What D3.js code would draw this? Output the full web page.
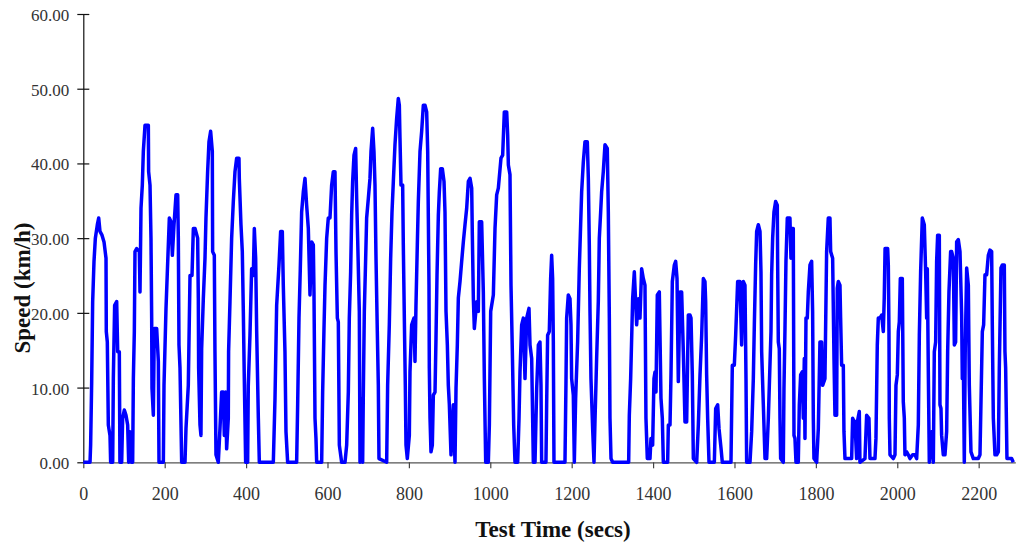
<!DOCTYPE html>
<html>
<head>
<meta charset="utf-8">
<script src="https://cdn.jsdelivr.net/npm/d3@7"></script>
<style>
  body { margin: 0; background: #fff; }
  svg { display: block; }
</style>
</head>
<body>
<div id="chart"></div>
<script>
// speed trace: [test time (s), speed (km/h)]
const speedTrace = [
  [0,0],[16.5,0],[18,2.3],[20.6,10.8],[23,21.5],[26.3,26.9],[29.6,30],[34.5,31.8],[37.8,32.7],[41,30.9],
  [46,30.4],[50.9,29.5],[55.8,27.3],[56.5,17.5],[59,16.1],[61.5,5],[65.6,3.6],[67.2,0],[72.2,0],[73.8,11.2],
  [77,21],[82,21.5],[84.5,14.8],[88.5,14.8],[90,0],[94.3,0],[96.7,5.9],[100.8,7],[104.9,6.3],[109,5],
  [111.5,0],[114.7,4.1],[118.8,0],[121.3,0],[123,11.2],[125.4,17.5],[127,28.2],[131.1,28.6],[137.7,28.2],[139.3,22.8],
  [141.8,34],[145,37.1],[147.5,41.6],[151.6,45.1],[159.8,45.1],[160.5,38.9],[163.9,37.1],[166.3,30],[168,19.3],[168.8,9.9],
  [172.1,6.3],[174.5,17.9],[180.3,17.9],[184.4,13.5],[186,0],[196.7,0],[198.3,10.3],[203.2,20.6],[206.5,25.5],[211.4,32.7],
  [215.5,32.2],[218.8,27.7],[222.9,31.8],[227.8,35.8],[231.9,35.8],[233.5,30],[235.1,15.7],[237.6,12.6],[241.7,0],[249.9,0],
  [252.3,4.5],[258,10.3],[262.2,25],[267.1,25],[270.4,31.3],[274.5,31.3],[281,30],[282.6,22],[283.4,12.6],[286.7,5],
  [289.1,3.6],[290.8,15.2],[294.9,21.9],[299,27.3],[301.4,32.7],[305.5,38.9],[308.8,42.9],[312.9,44.3],[317,41.6],[317.8,28.2],
  [321.9,27.7],[323.5,14.8],[326,1],[331.7,0],[335.8,4.5],[339.9,9.4],[344,9.4],[346.5,3.6],[349.7,9.4],[352.2,1.8],
  [356.3,5.9],[357,14.8],[360.4,21.5],[364.5,30],[368.6,34.9],[372.7,38.9],[376.8,40.7],[382.5,40.7],[383.3,38],[387.4,31.8],
  [390.7,28.2],[393.2,20.2],[395.6,11.2],[398.9,0],[403.8,0],[405.4,10.3],[409.5,17],[413.6,25.9],[417.7,25],[420.2,31.3],
  [423.5,27.3],[426,17.5],[430.1,5.9],[432.5,0],[466.9,0],[471,8.5],[475.1,21],[480.8,26.4],[484.9,30.9],[489,30.9],
  [491.4,23.7],[495.5,14.8],[498,4.1],[502.1,0],[524.2,0],[526.7,7.7],[530,19.3],[533.2,25.9],[536.5,33.5],[540.6,36.2],
  [544.7,38],[548.8,34.4],[552.9,31.3],[557,22.4],[561.1,29.5],[565.2,29.1],[566.8,22.8],[569.3,5.9],[571.7,3.2],[573.4,0],
  [585.7,0],[588.1,9.4],[591.4,17.9],[593.9,23.7],[598,30],[602,32.7],[606.1,32.7],[610.2,37.1],[614.3,38.9],[618.4,38.9],
  [620.9,28.2],[624.2,19.3],[626.6,18.8],[629.1,2.3],[634.8,0],[643,0],[647.1,2.3],[651.2,9.4],[653.6,19.3],[656.9,25.5],
  [659.4,33.1],[661.8,37.6],[665.1,41.1],[669.2,42],[671.7,35.3],[674.1,30],[678.2,20.2],[679.9,0],[682.3,8.5],[686.4,0],
  [688,9],[690.5,20.2],[693.8,27.3],[696.2,32.7],[700.3,35.3],[704.4,38],[706.9,41.6],[711,44.7],[714.2,41.6],[716.7,37.1],
  [719.2,27.3],[722.4,17.5],[724.9,10.3],[726.5,0.5],[745.4,0],[747.8,10.3],[751.9,18.4],[755.2,27.3],[758.5,33.5],[761.8,37.6],
  [765.8,42.5],[769.9,46],[774,48.7],[776.5,47.8],[778.1,43.4],[780.6,37.1],[784.7,37.1],[786.3,29.1],[788.8,19.3],[791.2,10.3],
  [792.9,2.3],[796.1,0.5],[801.1,3.6],[802.7,12.1],[806.8,18.4],[812.5,19.3],[815,13.5],[817.4,21],[820.7,29.1],[823.2,34.9],
  [827.3,41.6],[831.4,44.3],[835.5,47.8],[839.6,47.8],[843.7,46.9],[846.2,41.6],[847.8,32.7],[849.4,23.7],[850.2,12.6],[851.9,5.9],
  [854.3,1.4],[857.6,2.3],[860.1,9],[864.2,9.4],[866.6,16.6],[869.1,25.1],[872.4,33.1],[874.8,36.2],[878.1,39.3],[882.2,39.3],
  [886.3,37.6],[888.7,33.5],[891.2,20.2],[894.5,15.7],[896.9,10.3],[899.4,7.7],[903.5,1],[909.2,7.7],[913.3,0],[915.8,9.9],
  [919,15.7],[921.5,22],[925.6,24.2],[929.7,26.9],[933.8,29.5],[937.9,31.8],[942,34],[946.1,37.6],[950.2,38],[954.3,36.7],
  [955.9,30.4],[958.4,21.9],[960.8,17.9],[966.6,21.5],[970.6,20.2],[973.1,32.2],[978.8,32.2],[982.9,22.8],[985.4,11.2],[988.7,0],
  [995.2,0],[997.7,5],[1001,20.2],[1007.5,22.4],[1011.6,31.3],[1015.7,35.8],[1019.8,36.7],[1026.3,40.7],[1030.4,41.1],[1034.5,46.9],
  [1040.3,46.9],[1042.7,43.8],[1044.4,39.8],[1048.4,38.5],[1050.9,23.7],[1054.2,14.8],[1057.5,5],[1060.7,0],[1067.3,0],[1070.6,5.9],
  [1073,12.1],[1077.1,18.4],[1081.2,19.3],[1085.3,11.2],[1089.4,19.3],[1095.1,20.6],[1097.6,15.7],[1101.7,13.9],[1105.8,0],[1109.9,0],
  [1114,9.9],[1118.1,15.7],[1122.1,16.1],[1124.6,10.3],[1126.2,0],[1136.8,0],[1138.5,7.7],[1140.9,17],[1145,17.5],[1148.3,24.6],
  [1150.8,27.7],[1153.2,24.6],[1154.9,16.1],[1156.5,0],[1183.5,0],[1186,10.8],[1187.6,19.3],[1191.7,22.4],[1195.8,21.9],[1198.3,18.4],
  [1199.9,11.2],[1204,9],[1206.5,0],[1209.7,8.5],[1214.6,16.1],[1218.7,25.9],[1222,31.8],[1224.5,36.2],[1228.6,40.2],[1232.7,42.9],
  [1238.4,42.9],[1240.9,38],[1243.3,29.1],[1245,20.2],[1247.4,11.2],[1251.5,4.5],[1254.8,0],[1257.2,5.4],[1261.3,13.9],[1265.4,21.5],
  [1267.9,30],[1271.2,33.5],[1273.6,36.2],[1277.7,38.9],[1281.8,42.5],[1287.5,42],[1290,33.5],[1292.5,19.3],[1294.1,5.9],[1296.6,0.5],
  [1300.6,0],[1340,0],[1341.6,6.3],[1344.9,11.2],[1349.8,21.9],[1353.9,25.5],[1359.6,18.4],[1363.7,21.9],[1367.8,19.3],[1371.9,25.9],
  [1376,24.6],[1380.1,23.7],[1382.5,5.9],[1385.8,0.5],[1392.4,0.5],[1394.8,3.2],[1398.9,2.3],[1402.2,11.2],[1404.7,12.1],[1407.1,9.4],
  [1410.4,22.4],[1415.3,22.8],[1419.4,8.6],[1422.7,5.9],[1425.2,0],[1435.8,0],[1437.5,5],[1441.6,5],[1444,11.7],[1447.3,24.2],
  [1452.2,26.4],[1455.5,26.9],[1458.8,24.6],[1462,10.8],[1466.1,22.8],[1470.2,22.8],[1474.3,14.8],[1478.4,5.4],[1482.5,5.4],[1486.6,19.7],
  [1490.7,19.7],[1493.2,19.3],[1496.4,11.7],[1498.9,0.5],[1507.1,0],[1511.2,5],[1515.3,11.7],[1519.4,17],[1523.5,24.6],[1527.5,24.2],
  [1529.2,21.5],[1531.6,11.7],[1534.1,5.9],[1537.4,0],[1550.5,0],[1553.8,7.2],[1558.7,7.7],[1562,4.5],[1566.9,1.9],[1570.1,0],
  [1591.4,0],[1593.1,6.8],[1594.7,13],[1599.6,13],[1602.9,17],[1607.8,24.2],[1613.5,24.2],[1617.6,15.7],[1621.7,24.2],[1625.8,23.7],
  [1628.3,11.2],[1629.9,0],[1638.1,0],[1642.2,4.1],[1646.3,11.2],[1648.8,18.4],[1652,26.4],[1654.5,30.9],[1658.6,31.8],[1662.7,30.9],
  [1665.1,25.5],[1666.8,14.8],[1670.9,7.7],[1675,0.5],[1679.1,0.5],[1683.2,5.9],[1689.7,17.5],[1691.3,25.1],[1693.8,30],[1697,33.5],
  [1701.1,34.9],[1705.2,34.4],[1706,27.3],[1707.7,16.1],[1710.1,15.2],[1711.8,5.9],[1713.4,0.5],[1720,0],[1721.6,9.9],[1724.1,17.9],
  [1726.5,26.9],[1729.8,32.7],[1736.3,32.7],[1738.8,27.3],[1740.4,31.3],[1744.5,31.3],[1746.2,3.6],[1748.6,3.2],[1751.1,0],[1756.8,0],
  [1759.3,7.7],[1762.6,11.7],[1766.6,12.1],[1769.1,5.9],[1771.6,13.9],[1773.2,3.2],[1775.7,19.3],[1778.9,19.3],[1781.4,22.8],[1785.5,26.4],
  [1789.6,26.9],[1792,20.2],[1793.7,5.9],[1795.3,0.5],[1801.9,0],[1806,4.5],[1810,16.1],[1814.1,16.1],[1816.6,10.3],[1822.3,11.2],
  [1826.4,28.2],[1830.5,32.7],[1834.6,32.7],[1836.3,28.2],[1841.2,27.3],[1844.5,13.9],[1846.9,6.3],[1851,6.3],[1852.6,23.3],[1855.1,24.2],
  [1859.2,23.7],[1860.8,19.3],[1863.3,13],[1867.4,13],[1869,4.1],[1871.5,0.5],[1887.9,0.5],[1890.3,5.9],[1892,5.7],[1896,5.4],
  [1900.1,0.5],[1901.8,5.4],[1906.7,6.8],[1908.3,0],[1920.6,0.5],[1924.7,6.3],[1930.4,5.9],[1932.9,0.5],[1945.2,0.5],[1947.6,3.2],
  [1950.9,15.7],[1953.4,19.3],[1957.5,19.3],[1961.6,19.7],[1965.7,17.5],[1968,22],[1970,28.6],[1976.4,28.6],[1978,26.4],[1979.6,17.5],
  [1980.4,5.9],[1982.1,1],[1990.3,0.5],[1994.4,1],[1996.8,10.3],[2000.1,11.7],[2002.6,17.5],[2005,18.8],[2007.5,24.6],[2012.4,24.6],
  [2014.8,8.1],[2017.3,5.9],[2018.9,1],[2023,1.4],[2027.1,1],[2031.2,0.5],[2037.8,1],[2043.5,1],[2047.6,0.5],[2051.7,5],
  [2054.2,17],[2057.4,25.5],[2061.5,32.7],[2066.4,31.8],[2069.7,25.5],[2072.2,19.3],[2073.8,25.9],[2076.3,12.1],[2078.7,0],[2084.5,4.1],
  [2088.6,0],[2091,14.8],[2094.3,16.1],[2096.7,26.9],[2099.2,30.4],[2103.3,30.4],[2104.9,7.7],[2107.4,7.2],[2109,3.6],[2113.1,1],
  [2117.2,1],[2121.3,4.1],[2123.8,14.8],[2127,22.8],[2131.1,28.2],[2133.6,28.2],[2137.7,27.3],[2140.2,15.7],[2143.4,16.1],[2145.9,29.5],
  [2150,29.8],[2154.1,28.2],[2158.2,19.7],[2159.8,11.2],[2162.3,13.5],[2164.7,0],[2167,15],[2170.5,26],[2174.6,23.7],[2177,10.3],
  [2181.1,1.4],[2186.8,0.5],[2199.1,0.5],[2203.2,1],[2205.7,8.1],[2209,17.5],[2212.2,18.4],[2215.5,25.1],[2219.6,25.1],[2223.7,27.7],
  [2227.8,28.4],[2231.9,28.2],[2233.5,18.4],[2236,5.9],[2240.1,1],[2244.2,1],[2248.3,1.4],[2250.7,12.6],[2254.8,26],[2258.1,26.4],
  [2263,26.4],[2264.6,14.8],[2266.3,12.6],[2269.5,0.5],[2281,0.5],[2285.1,0]
];

const timeTicks = [0, 200, 400, 600, 800, 1000, 1200, 1400, 1600, 1800, 2000, 2200];
const speedTicks = [0, 10, 20, 30, 40, 50, 60];

const width = 1016, height = 544;
const plotLeft = 83.3, plotRight = 1015.3, plotTop = 14, plotBottom = 462.3;
const serif = '"Liberation Serif", "Times New Roman", serif';

const svg = d3.select('#chart').append('svg')
  .attr('width', width)
  .attr('height', height)
  .style('background', '#fff');

const x = d3.scaleLinear().domain([0, 2290]).range([plotLeft, plotRight]);
const y = d3.scaleLinear().domain([0, 60]).range([plotBottom, plotTop]);

// y axis, ticks cross the line
const yAxis = svg.append('g')
  .attr('transform', `translate(${plotLeft},0)`)
  .call(d3.axisLeft(y).tickValues(speedTicks).tickSizeInner(6).tickSizeOuter(0).tickFormat(d3.format('.2f')));
yAxis.select('.domain').attr('stroke', '#111').attr('stroke-width', 1.2);
yAxis.selectAll('.tick line').attr('x1', 6).attr('stroke', '#111').attr('stroke-width', 1.2);
yAxis.selectAll('.tick text')
  .attr('x', -14)
  .attr('dy', '0.38em')
  .style('font-family', serif)
  .style('font-size', '17px')
  .attr('fill', '#333');

// x axis
const xAxis = svg.append('g')
  .attr('transform', `translate(0,${plotBottom})`)
  .call(d3.axisBottom(x).tickValues(timeTicks).tickSizeInner(6).tickSizeOuter(0).tickFormat(d3.format('d')));
xAxis.select('.domain').attr('stroke', '#555').attr('stroke-width', 1.2);
xAxis.selectAll('.tick line').attr('stroke', '#444').attr('stroke-width', 1.2);
xAxis.selectAll('.tick text')
  .attr('y', 37.5)
  .attr('dy', null)
  .style('font-family', serif)
  .style('font-size', '18px')
  .attr('fill', '#333');

// the speed trace
const line = d3.line()
  .x(d => x(d[0]))
  .y(d => y(d[1]));

svg.append('path')
  .datum(speedTrace)
  .attr('fill', 'none')
  .attr('stroke', '#0000ff')
  .attr('stroke-width', 3.5)
  .attr('stroke-linejoin', 'round')
  .attr('d', line);

// axis titles
svg.append('text')
  .attr('x', 553)
  .attr('y', 537)
  .attr('text-anchor', 'middle')
  .style('font-family', serif)
  .style('font-size', '23px')
  .style('font-weight', 'bold')
  .attr('fill', '#111')
  .text('Test Time (secs)');

svg.append('text')
  .attr('transform', 'translate(30,288) rotate(-90)')
  .attr('text-anchor', 'middle')
  .style('font-family', serif)
  .style('font-size', '23px')
  .style('font-weight', 'bold')
  .attr('fill', '#111')
  .text('Speed (km/h)');
</script>
</body>
</html>
